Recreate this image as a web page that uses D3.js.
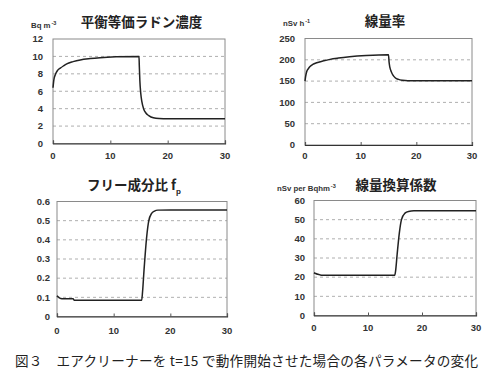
<!DOCTYPE html>
<html><head><meta charset="utf-8">
<script src="https://cdn.jsdelivr.net/npm/d3@7"></script>
<style>body{margin:0;background:#fff}svg{display:block}</style>
</head><body>
<svg id="c" width="500" height="382"></svg>
<script>
// ---- data ----
const xTicks = [0, 10, 20, 30];

const radonT = [0,0.15,0.4,0.8,1.27,1.8,2.4,3.5,4.75,6.5,8.2,11,14.9,15.0,15.05,15.15,15.3,15.5,15.8,16.2,16.7,17.5,18.5,20,25,30];
const radonV = [6.4,7.3,7.9,8.4,8.65,8.9,9.15,9.4,9.6,9.75,9.85,9.95,10.0,10.0,9.0,7.2,5.8,4.8,4.0,3.5,3.2,2.95,2.87,2.85,2.85,2.85];
const radonTicks = [0,2,4,6,8,10,12];

const doseT = [0,0.1,0.3,0.6,0.9,1.4,2.1,3.2,4.5,6,8,11,14.9,15.0,15.1,15.25,15.5,15.8,16.2,16.8,17.5,18.5,20,25,30];
const doseV = [150,160,172,179,184,189,193,197,201,204,207,210,212,212,195,182,172,164,158,154,152,151,151,151,151];
const doseTicks = [0,50,100,150,200,250];

const freeT = [0,0.15,0.4,0.7,1,2,2.85,2.95,3.05,5,10,14.95,15.1,15.36,15.83,16.2,16.7,17.2,17.8,20,25,30];
const freeV = [0.108,0.104,0.097,0.094,0.093,0.093,0.093,0.088,0.085,0.085,0.085,0.085,0.13,0.243,0.417,0.50,0.538,0.550,0.555,0.556,0.556,0.556];
const freeTicks = [0,0.1,0.2,0.3,0.4,0.5,0.6];

const convT = [0,0.3,0.7,1.1,1.5,3,8,14.95,15.1,15.4,15.8,16.2,16.85,17.5,18.5,20,25,30];
const convV = [22.3,21.9,21.5,21.2,21.0,21.0,21.0,21.0,23,32,43,50,53.4,54.3,54.6,54.6,54.6,54.6];
const convTicks = [0,10,20,30,40,50,60];

const titles = ["平衡等価ラドン濃度", "線量率", "フリー成分比 f", "線量換算係数"];
const caption = "図３　エアクリーナーを t=15 で動作開始させた場合の各パラメータの変化";

// ---- drawing ----
const svg = d3.select("#c");
const jp = "'Noto Sans CJK JP', 'Noto Sans', sans-serif";
const num = "'Liberation Sans', Arial, sans-serif";

const panels = [
  {T: radonT, V: radonV, ticks: radonTicks, fmt: d3.format("d"), box:[53,225,39,143.5], title: titles[0], tx:141.5, ty:27, xly:159, yl:10,
   unit:{x:31,y:28,parts:[["Bq m",0],["-3",1]]}},
  {T: doseT, V: doseV, ticks: doseTicks, fmt: d3.format("d"), box:[305,472,38.5,145], title: titles[1], tx:385, ty:26, xly:159, yl:10,
   unit:{x:283,y:26,parts:[["nSv h",0],["-1",1]]}},
  {T: freeT, V: freeV, ticks: freeTicks, fmt: d => d===0 ? "0" : d3.format(".1f")(d), box:[57,227,201.5,316.5], title: titles[2], tx:134, ty:190, xly:334, yl:7, sub:"p"},
  {T: convT, V: convV, ticks: convTicks, fmt: d3.format("d"), box:[314,476,200.5,315.5], title: titles[3], tx:396, ty:190, xly:331, yl:9,
   unit:{x:277,y:191,parts:[["nSv per Bqhm",0],["-3",1]]}}
];

panels.forEach(p => {
  const [l, r, t, b] = p.box;
  const x = d3.scaleLinear().domain([0, 30]).range([l, r]);
  const y = d3.scaleLinear().domain([p.ticks[0], p.ticks[p.ticks.length-1]]).range([b, t]);
  const g = svg.append("g");

  // gridlines
  g.selectAll("line.grid").data(p.ticks.slice(1, -1)).join("line")
    .attr("x1", l).attr("x2", r).attr("y1", d => y(d)).attr("y2", d => y(d))
    .attr("stroke", "#9a9a9a").attr("stroke-width", 0.8).attr("stroke-dasharray", "3,3");

  // frame
  g.append("rect").attr("x", l).attr("y", t).attr("width", r - l).attr("height", b - t)
    .attr("fill", "none").attr("stroke", "#8a8a8a").attr("stroke-width", 1);

  // bottom axis
  const xa = g.append("g").attr("transform", `translate(0,${b})`)
    .call(d3.axisBottom(x).tickValues(xTicks).tickSize(-3).tickPadding(0).tickFormat(""));
  xa.select(".domain").attr("stroke", "#333").attr("stroke-width", 1.2);
  xa.selectAll(".tick line").attr("stroke", "#555");

  // x labels
  g.selectAll("text.xl").data(xTicks).join("text")
    .attr("x", d => x(d)).attr("y", p.xly).attr("text-anchor", "middle")
    .attr("font-family", num).attr("font-weight", "bold").attr("font-size", 9.5).attr("fill", "#333")
    .text(d => d);

  // y labels
  g.selectAll("text.yl").data(p.ticks).join("text")
    .attr("x", l - p.yl).attr("y", d => y(d) + 3.3).attr("text-anchor", "end")
    .attr("font-family", num).attr("font-weight", "bold").attr("font-size", 9.5).attr("fill", "#333")
    .text(p.fmt);

  // data line
  const data = p.T.map((tt, i) => [tt, p.V[i]]);
  g.append("path").datum(data)
    .attr("d", d3.line().x(d => x(d[0])).y(d => y(d[1])).curve(d3.curveMonotoneX))
    .attr("fill", "none").attr("stroke", "#222").attr("stroke-width", 1.5);

  // title
  const tt = g.append("text").attr("x", p.tx).attr("y", p.ty).attr("text-anchor", "middle")
    .attr("font-family", jp).attr("font-weight", "bold").attr("font-size", 13.5).attr("fill", "#222");
  tt.append("tspan").text(p.title);
  if (p.sub) tt.append("tspan").attr("dy", 4).attr("font-size", 8).attr("font-family", num).text(p.sub);

  // unit
  if (p.unit) {
    const ut = g.append("text").attr("x", p.unit.x).attr("y", p.unit.y)
      .attr("font-family", num).attr("font-weight", "bold").attr("font-size", 7.8).attr("fill", "#333");
    p.unit.parts.forEach(([s, sup]) => {
      const ts = ut.append("tspan").text(s);
      if (sup) ts.attr("dy", -3.5).attr("font-size", 5.5).attr("dx", 1);
    });
  }
});

// caption
svg.append("text").attr("x", 15).attr("y", 366)
  .attr("font-family", jp).attr("font-size", 13.6).attr("fill", "#222")
  .attr("textLength", 463).attr("lengthAdjust", "spacing")
  .text(caption);
</script>
</body></html>
